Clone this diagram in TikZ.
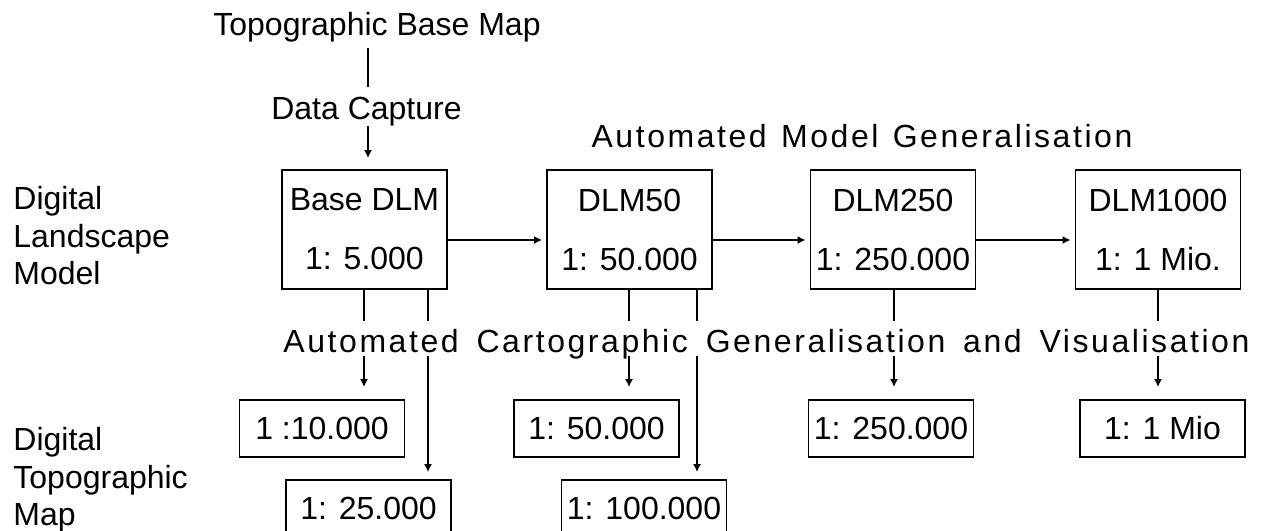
\documentclass[tikz,border=0pt]{standalone}
\usepackage{fontspec}
\setmainfont{Liberation Sans}
\newfontfamily\widefont[LetterSpace=8,WordSpace=1.2]{Liberation Sans}
\newfontfamily\widerfont[LetterSpace=8,WordSpace=1.25]{Liberation Sans}
\usetikzlibrary{arrows.meta}
\tikzset{
  dlmbox/.style={draw,line width=0.9pt,inner sep=0pt,minimum width=82.5pt,minimum height=59.5pt,align=center,font=\fontsize{16}{29.5}\selectfont},
  mapbox/.style={draw,line width=0.9pt,inner sep=0pt,minimum width=82.5pt,minimum height=28.5pt,font=\fontsize{16}{18}\selectfont},
  lbl/.style={inner sep=0pt,font=\fontsize{16}{18.75}\selectfont},
  widelbl/.style={inner sep=0pt,font=\widefont\fontsize{16}{18}\selectfont},
  flow/.style={line width=0.75pt,-{Latex[length=4pt,width=4pt]}},
  stem/.style={line width=0.75pt}
}

\begin{document}
\begin{tikzpicture}[x=0.5pt,y=-0.5pt]
      \useasboundingbox (0,0) rectangle (1266,531);
      \clip (0,0) rectangle (1266,531);

      % source and capture
      \node[lbl,anchor=base] (tbm) at (377,35) {Topographic Base Map};
      \node[lbl,anchor=base] (dc) at (366.5,119) {Data Capture};

      % landscape models
      \node[dlmbox] (bdlm) at (364.5,229.5) {Base DLM\\1: 5.000};
      \node[dlmbox] (dlm50) at (629.5,229.5) {DLM50\\1: 50.000};
      \node[dlmbox] (dlm250) at (893,229.5) {DLM250\\1: 250.000};
      \node[dlmbox] (dlm1000) at (1158,229.5) {DLM1000\\1: 1 Mio.};
      \node[widelbl,anchor=base] (amg) at (862,147) {Automated Model Generalisation};

      \node[lbl,anchor=north west,align=left] (dlmlab) at (13,186) {Digital\\Landscape\\Model};
      \node[lbl,anchor=north west,align=left] (dtklab) at (13,427) {Digital\\Topographic\\Map};

      % topographic maps
      \node[widelbl,font=\widerfont\fontsize{16}{18}\selectfont,anchor=base,text height=15.5pt,text depth=2pt] (acg) at (766.5,352) {Automated Cartographic Generalisation and Visualisation};
      \node[mapbox] (m10) at (322,428.5) {1 :10.000};
      \node[mapbox] (m25) at (368.5,508.5) {1: 25.000};
      \node[mapbox] (m50) at (596.5,428.5) {1: 50.000};
      \node[mapbox] (m100) at (644,508.5) {1: 100.000};
      \node[mapbox] (m250) at (891,428.5) {1: 250.000};
      \node[mapbox] (mmio) at (1162.5,428.5) {1: 1 Mio};

      \coordinate (capx) at (368,0);
      \draw[stem,shorten <=3pt,shorten >=4.5pt] (tbm.south -| capx) -- (dc.north -| capx);
      \draw[flow,shorten >=5.5pt] (dc.south -| capx) -- (bdlm.north -| capx);

      \coordinate (row) at (0,240);
      \foreach \a/\b in {bdlm/dlm50,dlm50/dlm250,dlm250/dlm1000}
        \draw[flow,shorten >=2pt] (\a.east |- row) -- (\b.west |- row);

      \foreach \src/\x/\dst/\gap in {bdlm/364/m10/6,bdlm/428/m25/3.5,dlm50/629/m50/6,dlm50/697/m100/3.5,dlm250/894/m250/6,dlm1000/1158/mmio/6}{
        \coordinate (col) at (\x,0);
        \draw[stem] (\src.south -| col) -- (acg.north -| col);
        \draw[flow,shorten >=\gap pt] (acg.south -| col) -- (\dst.north -| col);
      }
\end{tikzpicture}
\end{document}
